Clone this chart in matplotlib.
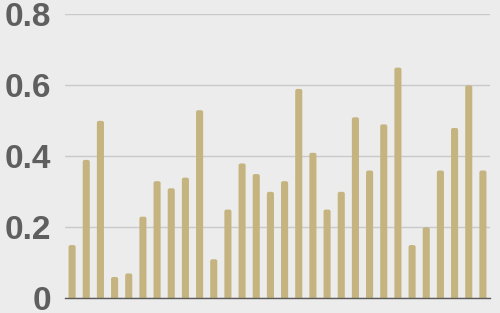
import matplotlib
matplotlib.use('Agg')
import matplotlib.pyplot as plt
from matplotlib.patches import FancyBboxPatch

# nilai tiap batang
values = [0.15, 0.39, 0.50, 0.06, 0.07, 0.23, 0.33, 0.31, 0.34, 0.53,
          0.11, 0.25, 0.38, 0.35, 0.30, 0.33, 0.59, 0.41, 0.25, 0.30,
          0.51, 0.36, 0.49, 0.65, 0.15, 0.20, 0.36, 0.48, 0.60, 0.36]
y_ticks = [0, 0.2, 0.4, 0.6, 0.8]
y_labels = ['0', '0.2', '0.4', '0.6', '0.8']

bg = '#ececec'
bar_color = '#c5b47f'

fig = plt.figure(figsize=(5, 3.13), dpi=100)
fig.patch.set_facecolor(bg)
ax = fig.add_axes([0.13, 0.047, 0.85, 0.907])
ax.set_facecolor(bg)

x = list(range(len(values)))
bars = ax.bar(x, values, width=0.5, color=bar_color)

# ganti batang dengan ujung membulat
for b in bars:
    b.set_visible(False)
    r = 0.14
    patch = FancyBboxPatch((b.get_x(), -0.02), b.get_width(), b.get_height() + 0.02,
                           boxstyle='round,pad=0,rounding_size=%f' % r,
                           mutation_aspect=0.04, facecolor=bar_color,
                           edgecolor='none', zorder=2)
    ax.add_patch(patch)

ax.set_xlim(-0.5, len(values) - 0.5)
ax.set_ylim(0, 0.8)
ax.set_yticks(y_ticks)
ax.set_yticklabels(y_labels)
ax.set_xticks([])

ax.grid(axis='y', color='#c9c9c9', linewidth=1, zorder=0)
ax.set_axisbelow(True)
for s in ['top', 'right', 'left']:
    ax.spines[s].set_visible(False)
ax.spines['bottom'].set_color('#5a5a5a')
ax.spines['bottom'].set_linewidth(1)
ax.spines['bottom'].set_zorder(3)

ax.tick_params(axis='y', length=0, pad=10, labelsize=24, labelcolor='#5f5f5f')
for lab in ax.get_yticklabels():
    lab.set_fontfamily('Liberation Sans')
    lab.set_fontweight('bold')

fig.savefig('out.png', dpi=100, facecolor=bg)
